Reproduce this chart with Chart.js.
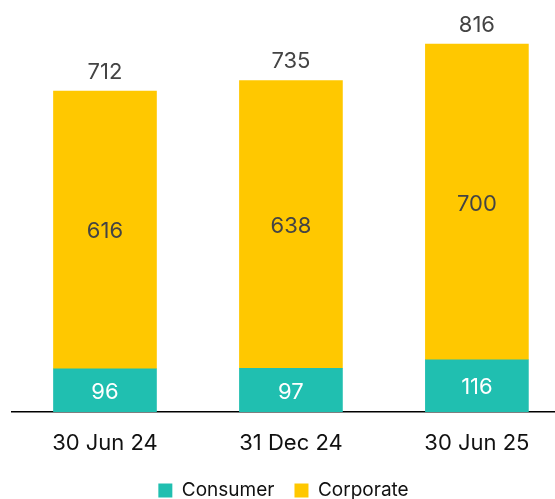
<!DOCTYPE html>
<html>
<head>
<meta charset="utf-8">
<script src="https://cdn.jsdelivr.net/npm/chart.js@4.4.0/dist/chart.umd.min.js"></script>
<style>
  html, body { margin: 0; padding: 0; background: #fff; }
  #wrap { width: 555px; height: 499px; }
</style>
</head>
<body>
<div id="wrap"><canvas id="loanChart"></canvas></div>
<script>
// -------------------- DATA --------------------
const periods = ['30 Jun 24', '31 Dec 24', '30 Jun 25'];
const consumer = [96, 97, 116];
const corporate = [616, 638, 700];
const totals = [712, 735, 816];

const TEAL = '#20bfb0';
const YELLOW = '#ffc800';
const FONT = 'Inter';

// labels inside the bars + totals on top
const barLabels = {
  id: 'barLabels',
  afterDatasetsDraw(chart) {
    const ctx = chart.ctx;
    ctx.save();
    ctx.font = '22px ' + FONT;
    ctx.textAlign = 'center';
    ctx.textBaseline = 'middle';
    chart.data.datasets.forEach((ds, di) => {
      chart.getDatasetMeta(di).data.forEach((bar, i) => {
        ctx.fillStyle = di === 0 ? '#ffffff' : '#444444';
        ctx.fillText(ds.data[i].y, bar.x, (bar.y + bar.base) / 2 + 2);
      });
    });
    chart.getDatasetMeta(1).data.forEach((bar, i) => {
      ctx.fillStyle = '#444444';
      ctx.fillText(totals[i], bar.x, bar.y - 19);
    });
    ctx.restore();
  }
};

const ctx = document.getElementById('loanChart').getContext('2d');
new Chart(ctx, {
  type: 'bar',
  data: {
    datasets: [
      {
        label: 'Consumer',
        data: consumer.map((v, i) => ({ x: i, y: v })),
        backgroundColor: TEAL,
        barThickness: 103
      },
      {
        label: 'Corporate',
        data: corporate.map((v, i) => ({ x: i, y: v })),
        backgroundColor: YELLOW,
        barThickness: 103
      }
    ]
  },
  options: {
    responsive: true,
    maintainAspectRatio: false,
    animation: false,
    layout: { padding: { left: 12, right: 0, top: 0, bottom: -11 } },
    scales: {
      x: {
        type: 'linear',
        stacked: true,
        offset: false,
        min: -0.5,
        max: 2.42,
        grid: { display: false },
        border: { display: true, color: '#000', width: 1.5 },
        afterBuildTicks: (scale) => {
          scale.ticks = periods.map((p, i) => ({ value: i }));
        },
        afterFit: (scale) => { scale.height = 49; },
        ticks: {
          callback: (v) => periods[v],
          font: { family: FONT, size: 22 },
          color: '#111',
          padding: 10,
          maxRotation: 0
        }
      },
      y: {
        stacked: true,
        display: false,
        min: 0,
        max: 914
      }
    },
    plugins: {
      legend: {
        position: 'bottom',
        labels: {
          boxWidth: 14,
          boxHeight: 14,
          padding: 20,
          color: '#111',
          font: { family: FONT, size: 19 }
        }
      },
      tooltip: { enabled: false }
    }
  },
  plugins: [barLabels]
});
</script>
</body>
</html>
